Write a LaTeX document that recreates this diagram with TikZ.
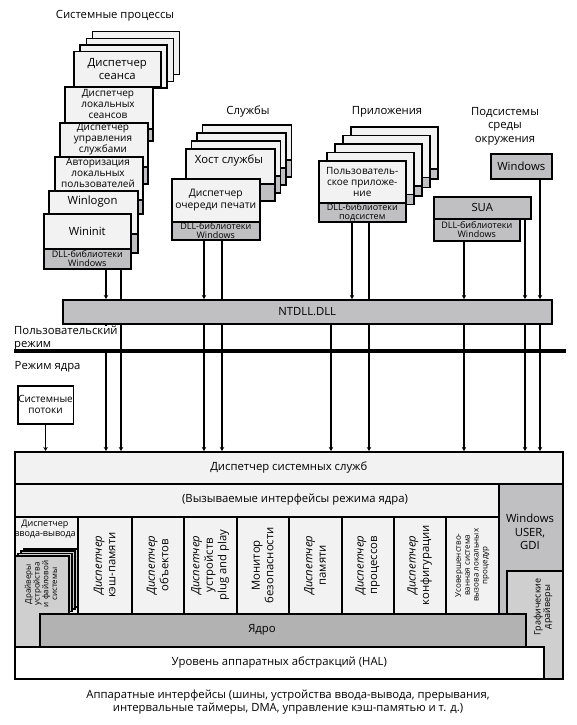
\documentclass[tikz,border=0pt]{standalone}
\usepackage{fontspec}
\setmainfont{Open Sans}
\usetikzlibrary{arrows.meta,positioning}
\definecolor{boxfill}{HTML}{F2F2F2}
\definecolor{dllgray}{HTML}{C0C0C2}
\definecolor{kerngray}{HTML}{B2B2B2}
\definecolor{drvgray}{HTML}{CFCFD0}
\newcommand\szbig{\fontsize{11.3}{13.5}\selectfont}
\newcommand\szmid{\fontsize{10}{11}\selectfont}
\newcommand\szsmall{\fontsize{9}{9.6}\selectfont}
\newcommand\sztiny{\fontsize{8}{8.8}\selectfont}
\tikzset
{
    dims/.style 2 args = {minimum width=#1pt, minimum height=#2pt},
    box/.style   = {rectangle, draw=black, line width=1.5pt, fill=boxfill, inner sep=0.5pt, align=center, anchor=north west, font=\szmid},
    dll/.style   = {box, fill=dllgray, font=\szsmall},
    txt/.style   = {align=center, inner sep=0.5pt, font=\szbig},
    vtxt/.style  = {txt, rotate=90, font=\szbig},
    arrow/.style = {line width=1.4pt, -{Stealth[length=4pt,width=4.5pt]}},
    link/.style  = {line width=1.4pt},
    modeline/.style = {line width=3.5pt}
}

\begin{document}
\begin{tikzpicture}[x=1pt,y=-1pt]
	\useasboundingbox (0,0) rectangle (576,725);

	% system processes
	\node[txt] (sysproc) at (115,16) {Системные процессы};
	\foreach \k in {3,2,1}
		\node[box, dims={87}{43}] (seansbg\k) at ({73+6.3*\k},{51-6.7*\k}) {};
	\node[box, dims={87}{35}, font=\szbig] (seans) at (73,51) {Диспетчер\\сеанса};
	\node[box, dims={88}{42}] (lokal) at (64,86) {};
	\node[dll, dims={88}{12}] (lokaldll) at (64,128) {};
	\node[box, dims={88}{44}] (upr) at (59,122) {};
	\node[dll, dims={88}{17}] (uprdll) at (59,166) {};
	\node[box, dims={88}{43}] (avt) at (54,156) {};
	\node[dll, dims={88}{14}] (avtdll) at (54,199) {};
	\node[box, dims={89}{43}] (winlogon) at (48,190) {};
	\node[dll, dims={89}{19}] (winlogondll) at (48,233) {};
	\node[box, dims={87}{35}, font=\szbig] (wininit) at (43,213) {Wininit};
	\node[dll, dims={87}{20}] (wininitdll) at (43,248) {DLL-библиотеки\\Windows};
	\node[txt, font=\szmid] (lokaltxt) at (108,104) {Диспетчер\\локальных\\сеансов};
	\node[txt, font=\szmid] (uprtxt) at (103,139) {Диспетчер\\управления\\службами};
	\node[txt, font=\szmid] (avttxt) at (98,173) {Авторизация\\локальных\\пользователей};
	\node[txt] (winlogontxt) at (92.5,201.5) {Winlogon};

	% services
	\node[txt] (services) at (248,112) {Службы};
	\foreach \k in {3,2,1}
	{
		\node[box, dims={89}{35}] (hostbg\k) at ({185+5.5*\k},{148-8*\k}) {};
		\node[dll, dims={89}{17}] (hostbgdll\k) at ({185+5.5*\k},{183-8*\k}) {};
	}
	\node[box, dims={89}{35}] (host) at (185,148) {};
	\node[dll, dims={89}{17}] (hostdll) at (185,183) {};
	\node[txt] (hosttxt) at (229,161) {Хост службы};
	\node[box, dims={88}{43}, font=\fontsize{10.3}{12.5}\selectfont] (printq) at (171,178) {Диспетчер\\очереди печати};
	\node[dll, dims={88}{18}] (printqdll) at (171,221) {DLL-библиотеки\\Windows};

	% applications
	\node[txt] (apps) at (387,112) {Приложения};
	\foreach \k in {4,3,2,1}
	{
		\node[box, dims={87}{42}] (appbg\k) at ({318+8*\k},{160-8.5*\k}) {};
		\node[dll, dims={87}{10}] (appbgdll\k) at ({318+8*\k},{202-8.5*\k}) {};
	}
	\node[box, dims={87}{42}] (app) at (318,160) {Пользователь-\\ское приложе-\\ние};
	\node[dll, dims={87}{18}] (appdll) at (318,202) {DLL-библиотеки\\подсистем};

	% environment subsystems
	\node[txt] (envsub) at (505,126) {Подсистемы\\среды\\окружения};
	\node[box, fill=dllgray, dims={61}{25}, font=\szbig] (win) at (490,153) {Windows};
	\node[box, fill=dllgray, dims={97}{22}, font=\szbig] (sua) at (433,196) {SUA};
	\node[dll, dims={86}{22}] (suadll) at (433,218) {DLL-библиотеки\\Windows};

	% ntdll and modes
	\node[box, fill=dllgray, dims={489}{24}, font=\szbig] (ntdll) at (62,299) {NTDLL.DLL};
	\node[txt, anchor=west] (kmode) at (14,367) {Режим ядра};
	\node[box, fill=white, dims={51}{38}, font=\szmid] (threads) at (17,385) {Системные\\потоки};

	% kernel mode
	\node[box, dims={548}{32}, font=\szbig] (ssd) at (14,451) {Диспетчер системных служб};
	\node[box, dims={484}{33}] (kif) at (14,483) {};
	\node[txt] (kiftxt) at (295,499.5) {(Вызываемые интерфейсы режима ядра)};
	\node[box, fill=dllgray, dims={64}{195}] (usergdi) at (498,483) {};
	\node[txt] (usergditxt) at (530,532) {Windows\\USER,\\GDI};
	\node[box, fill=drvgray, dims={56}{108}] (gfx) at (506,570) {};
	\node[vtxt, font=\szsmall] (gfxtxt) at (543,607) {Графические\\драйверы};

	\node[box, dims={63}{97}] (io) at (14,516) {};
	\node[box, dims={54}{97}] (cache) at (77,516) {};
	\node[box, dims={52}{97}] (objs) at (131,516) {};
	\node[box, dims={53}{97}] (pnp) at (183,516) {};
	\node[box, dims={52}{97}] (secmon) at (236,516) {};
	\node[box, dims={53}{97}] (mem) at (288,516) {};
	\node[box, dims={52}{97}] (procs) at (341,516) {};
	\node[box, dims={52}{97}] (cfg) at (393,516) {};
	\node[box, dims={53}{97}] (alpc) at (445,516) {};
	\node[txt, font=\szsmall] (iotxt) at (45,529) {Диспетчер\\ввода-вывода};
	\node[vtxt] (cachetxt) at (cache) {{\itshape Диспетчер}\\кэш-памяти};
	\node[vtxt] (objstxt) at (objs) {{\itshape Диспетчер}\\объектов};
	\node[vtxt] (pnptxt) at (pnp) {{\itshape Диспетчер}\\устройств\\plug and play};
	\node[vtxt] (secmontxt) at (secmon) {Монитор\\безопасности};
	\node[vtxt] (memtxt) at (mem) {{\itshape Диспетчер}\\памяти};
	\node[vtxt] (procstxt) at (procs) {{\itshape Диспетчер}\\процессов};
	\node[vtxt] (cfgtxt) at (cfg) {{\itshape Диспетчер}\\конфигурации};
	\node[vtxt, font=\sztiny] (alpctxt) at (alpc) {Усовершенство-\\ванная система\\вызова локальных\\процедур};

	\foreach \k in {3,2,1}
		\node[box, fill=drvgray, dims={54}{58}] (drvbg\k) at ({14+3*\k},{555-2.3*\k}) {};
	\node[box, fill=drvgray, dims={54}{91}] (drv) at (14,555) {};
	\node[vtxt, font=\sztiny] (drvtxt) at (41,584) {Драйверы\\устройства\\и файловой\\системы};

	\node[box, fill=kerngray, dims={486}{33}] (kernel) at (39,613) {};
	\node[txt] (kerneltxt) at (262,629.5) {Ядро};
	\node[box, fill=white, dims={529}{32}, font=\szbig] (hal) at (14,646) {Уровень аппаратных абстракций (HAL)};
	\node[txt] (hw) at (288,702) {Аппаратные интерфейсы (шины, устройства ввода-вывода, прерывания,\\интервальные таймеры, DMA, управление кэш-памятью и т. д.)};

	% connectors
	\coordinate (la) at (106,0);
	\coordinate (lb) at (121,0);
	\coordinate (lc) at (204,0);
	\coordinate (ld) at (222,0);
	\coordinate (le) at (331,0);
	\coordinate (lf) at (352,0);
	\coordinate (lg) at (369,0);
	\coordinate (lh) at (464,0);
	\coordinate (li) at (525,0);
	\coordinate (lj) at (540,0);

	\draw [arrow] (la |- wininitdll.south) -- (la |- ntdll.north);
	\draw [link]  (lb |- wininitdll.south) -- (lb |- ntdll.north);
	\draw [arrow] (lc |- printqdll.south) -- (lc |- ntdll.north);
	\draw [link]  (ld |- printqdll.south) -- (ld |- ntdll.north);
	\draw [arrow] (lf |- appdll.south) -- (lf |- ntdll.north);
	\draw [link]  (lg |- appdll.south) -- (lg |- ntdll.north);
	\draw [arrow] (lh |- suadll.south) -- (lh |- ntdll.north);
	\draw [arrow] (li |- sua.south) -- (li |- ntdll.north);
	\draw [arrow] (lj |- win.south) -- (lj |- ntdll.north);

	\draw [arrow] (la |- ntdll.south) -- (la |- ssd.north);
	\draw [arrow] (lb |- ntdll.south) -- (lb |- ssd.north);
	\draw [arrow] (lc |- ntdll.south) -- (lc |- ssd.north);
	\draw [arrow] (ld |- ntdll.south) -- (ld |- ssd.north);
	\draw [arrow] (le |- ntdll.south) -- (le |- ssd.north);
	\draw [arrow] (lg |- ntdll.south) -- (lg |- ssd.north);
	\draw [arrow] (lh |- ntdll.south) -- (lh |- ssd.north);
	\draw [arrow] (li |- ntdll.south) -- (li |- ssd.north);
	\draw [arrow] (lj |- ntdll.south) -- (lj |- ssd.north);
	\draw [arrow] (threads.south) -- (threads.south |- ssd.north);

	\node[txt, anchor=west, align=left, fill=white, inner sep=0pt] (umode) at (14,338) {Пользовательский\\режим};
	\draw[modeline] (14,351) -- (566,351);

\end{tikzpicture}
\end{document}
